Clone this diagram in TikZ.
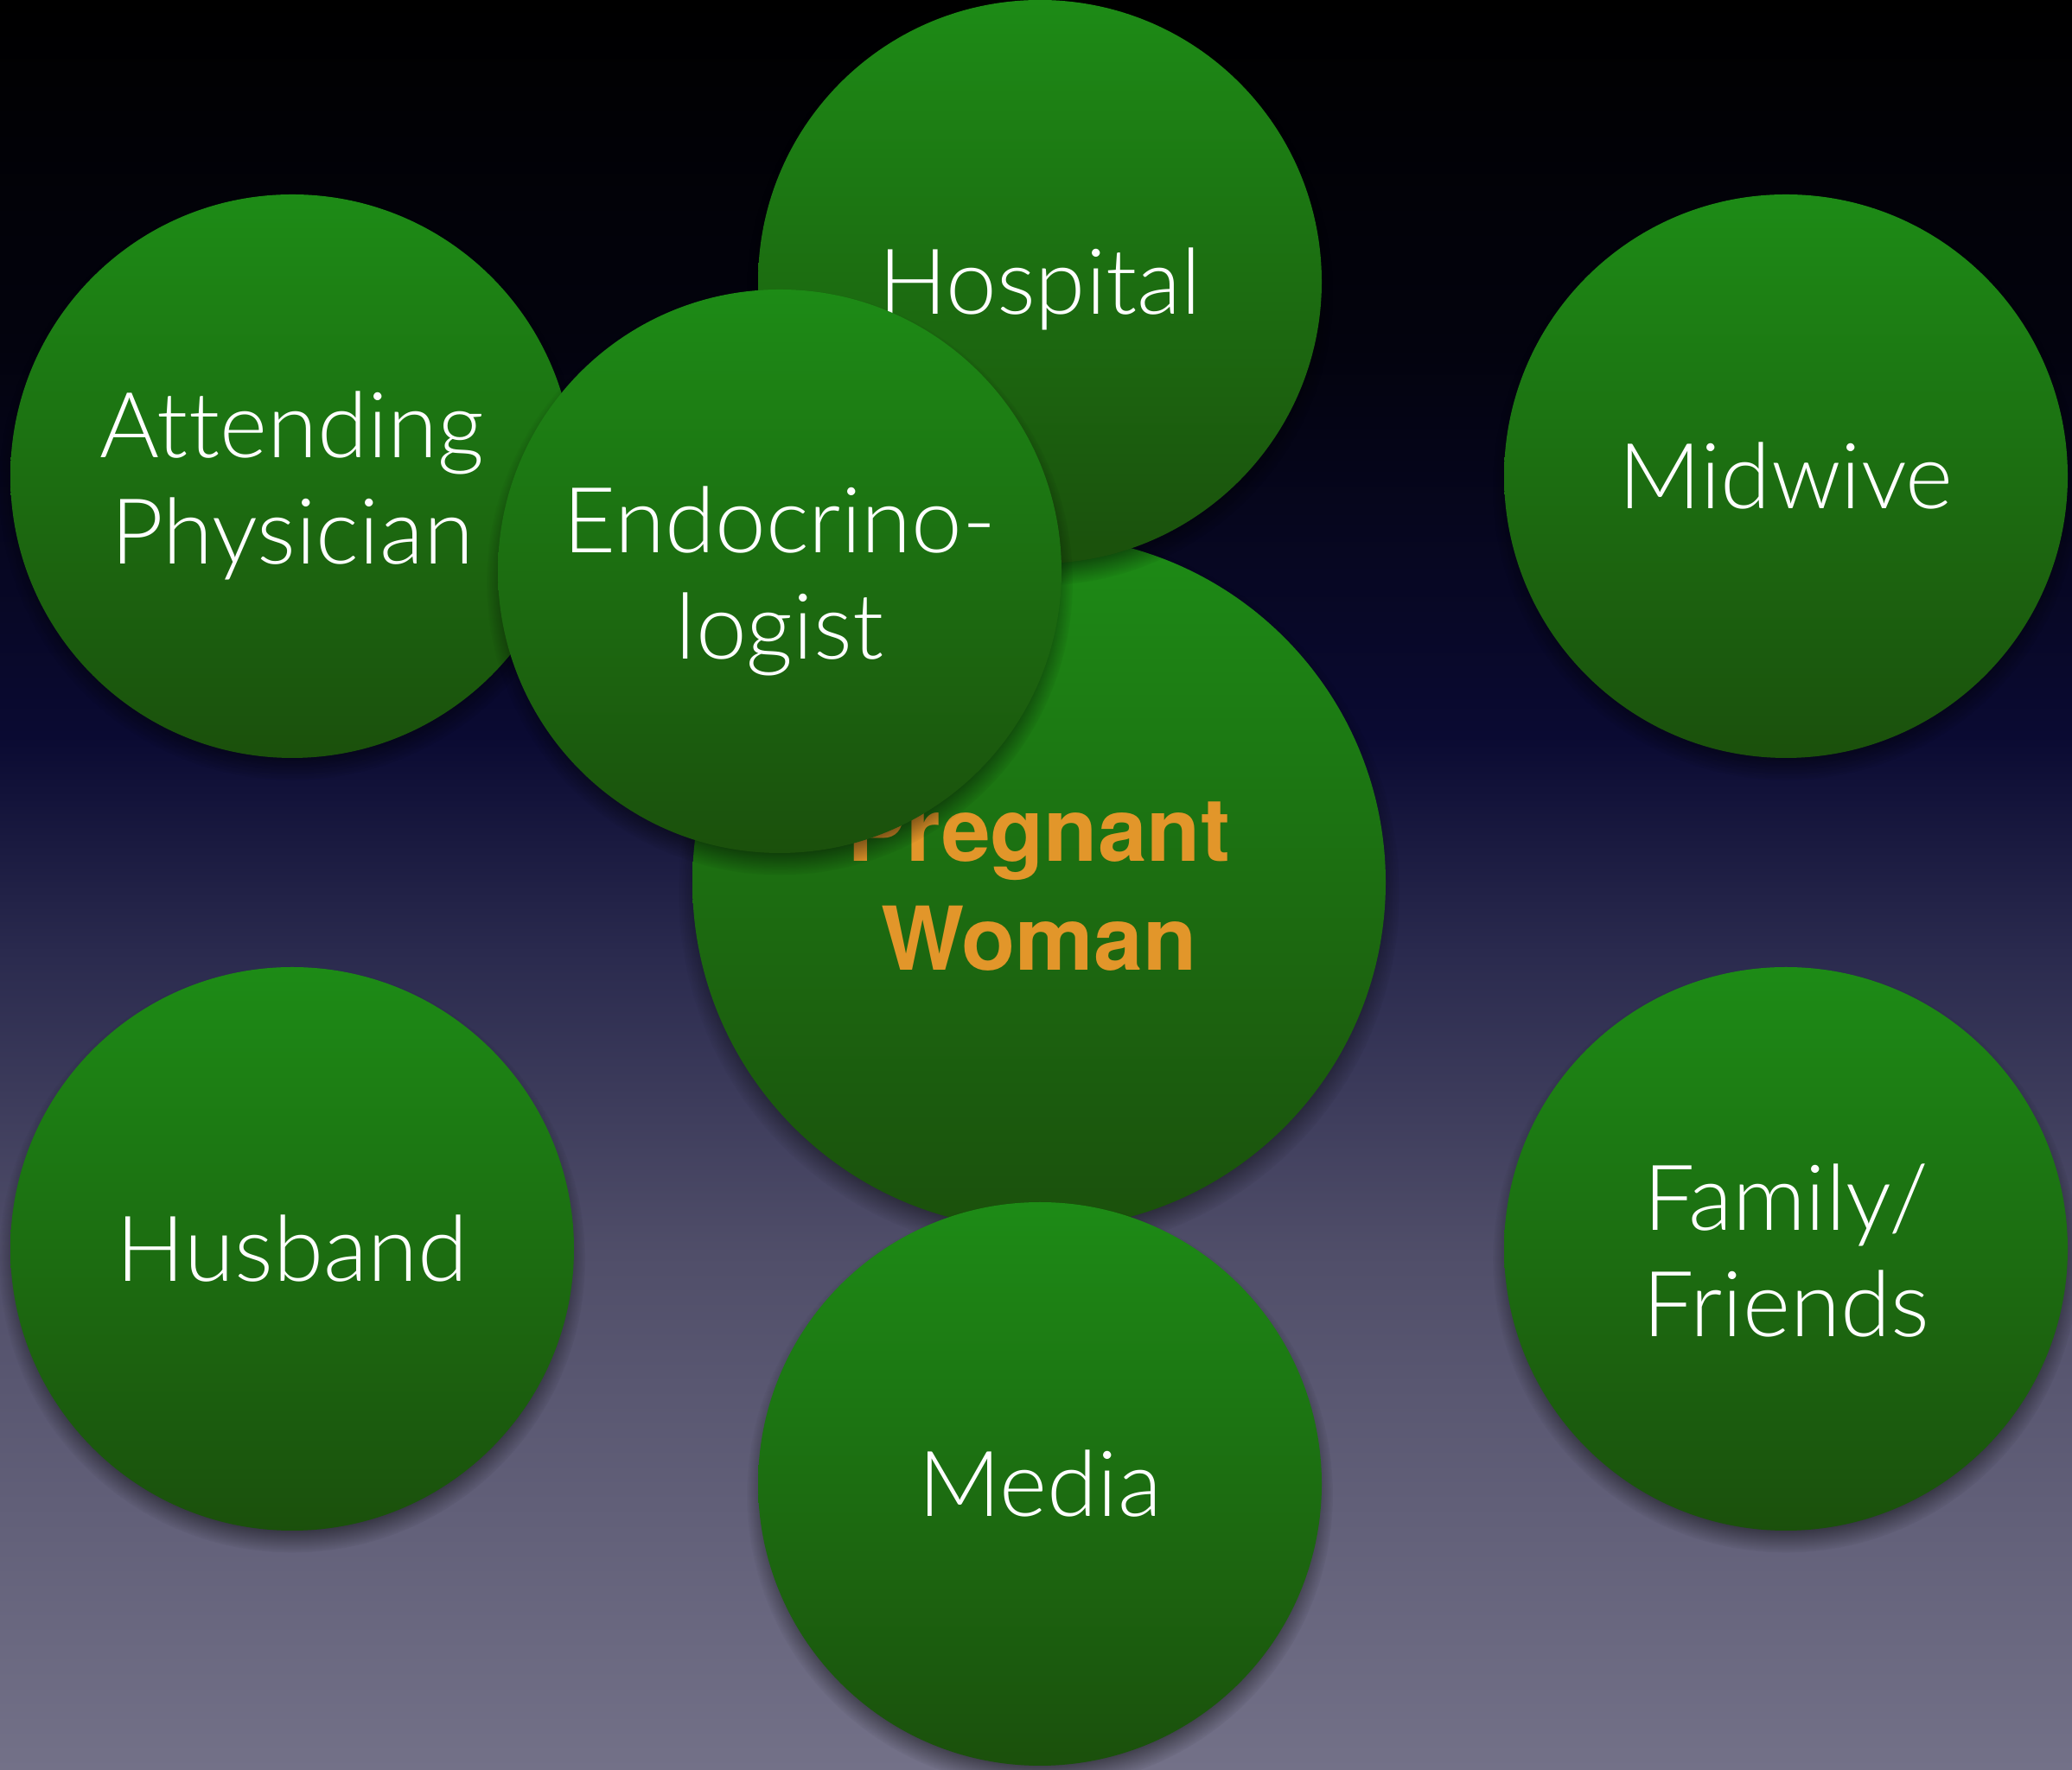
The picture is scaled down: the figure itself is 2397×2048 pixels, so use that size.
\documentclass[tikz,border=0pt]{standalone}
\usepackage{fontspec}
\newfontfamily\lightfont{Lato Light}[Ligatures=NoCommon]
\newfontfamily\heavyfont{TeX Gyre Heros}
\usetikzlibrary{shadows,fadings}

\definecolor{ballTop}{RGB}{29,139,22}
\definecolor{ballBot}{RGB}{27,80,12}
\definecolor{womanOrange}{RGB}{226,150,42}
\definecolor{bgA}{RGB}{3,3,14}
\definecolor{bgB}{RGB}{10,10,50}
\definecolor{bgC}{RGB}{42,42,78}
\definecolor{bgD}{RGB}{80,78,105}
\definecolor{bgE}{RGB}{115,113,136}

\pgfdeclareverticalshading{skyshade}{100bp}{color(0bp)=(bgE); color(25bp)=(bgE);
  color(39.6bp)=(bgD); color(48.1bp)=(bgC); color(54.2bp)=(bgB);
  color(65.2bp)=(bgA); color(75bp)=(black); color(100bp)=(black)}

\begin{document}
\begin{tikzpicture}[x=0.1mm,y=0.1mm,
  ball/.style={circle,minimum size=65.2mm,inner sep=0pt,outer sep=0pt,
    top color=ballTop,bottom color=ballBot,text=white,align=center,
    font=\lightfont\fontsize{30}{35}\selectfont,text height=21.5pt,text depth=0pt,
    circular drop shadow={fill=black,shadow xshift=0pt,shadow yshift=-1.2mm,shadow scale=1.04,opacity=.8}},
  twolines/.style={text height=57.5pt},
  bigball/.style={ball,minimum size=80.2mm,text=womanOrange,
    font=\heavyfont\bfseries\fontsize{29}{36}\selectfont,text height=58pt}]

  % background
  \useasboundingbox (0,0) rectangle (2397,2048);
  \shade[shading=skyshade] (0,0) rectangle (2397,2048);

  \node[bigball] (woman) at (1202,1027) {Pregnant\\Woman};
  \node[ball] (hospital) at (1203,1722) {Hospital};
  \node[ball,twolines] (physician) at (338,1497) {Attending\\Physician};
  \node[ball,twolines] (endo) at (902,1387) {Endocrino-\\logist};
  \node[ball] (media) at (1203,331) {Media};
  \node[ball] (midwive) at (2066,1497) {Midwive};
  \node[ball] (husband) at (338,603) {Husband};
  \node[ball,twolines] (family) at (2066,603) {Family/\\Friends};
\end{tikzpicture}
\end{document}
